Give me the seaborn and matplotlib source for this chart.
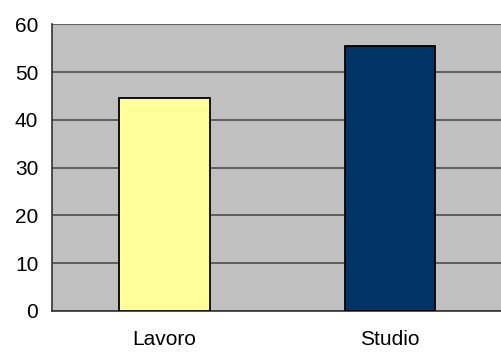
import matplotlib
matplotlib.use("Agg")
import matplotlib.pyplot as plt
import seaborn as sns
import pandas as pd

categories = ["Lavoro", "Studio"]
values = [44.5, 55.4]
colors = ["#ffff99", "#003366"]
yticks = [0, 10, 20, 30, 40, 50, 60]

sns.set_style("white")
plt.rcParams["font.family"] = ["Liberation Sans", "DejaVu Sans"]
plt.rcParams["text.color"] = "black"
plt.rcParams["xtick.color"] = "black"
plt.rcParams["ytick.color"] = "black"

df = pd.DataFrame({"cat": categories, "val": values})

fig = plt.figure(figsize=(5.02, 3.52), dpi=100)
ax = fig.add_axes([0.1026, 0.1173, 0.8994, 0.8131])
ax.set_facecolor("#c0c0c0")

sns.barplot(data=df, x="cat", y="val", hue="cat", palette=colors, width=0.4,
            saturation=1, edgecolor="black", linewidth=1.3, legend=False, ax=ax, zorder=3)

ax.set_ylim(0, 60)
ax.set_xlim(-0.5, 1.5)
ax.set_yticks(yticks)
ax.set_yticklabels([str(t) for t in yticks], fontsize=15, color="black")
ax.yaxis.grid(True, color="#4d4d4d", linewidth=1.2, zorder=1)
ax.set_axisbelow(True)
ax.tick_params(axis="y", direction="out", length=4, width=1, color="#333333", pad=5.5)
ax.set_xticks([0, 1])
ax.set_xticklabels(categories, fontsize=15, color="black")
ax.set_xticks([-0.5, 0.5, 1.5], minor=True)
ax.tick_params(axis="x", which="major", length=0, pad=14)
ax.tick_params(axis="x", which="minor", direction="out", length=5, width=1, color="#333333")
ax.set_xlabel("")
ax.set_ylabel("")

ax.spines["right"].set_visible(False)
ax.spines["top"].set_visible(False)
ax.spines["left"].set_color("#333333")
ax.spines["left"].set_linewidth(1.2)
ax.spines["bottom"].set_color("#333333")
ax.spines["bottom"].set_linewidth(1.2)

fig.savefig("out.png", dpi=100)
